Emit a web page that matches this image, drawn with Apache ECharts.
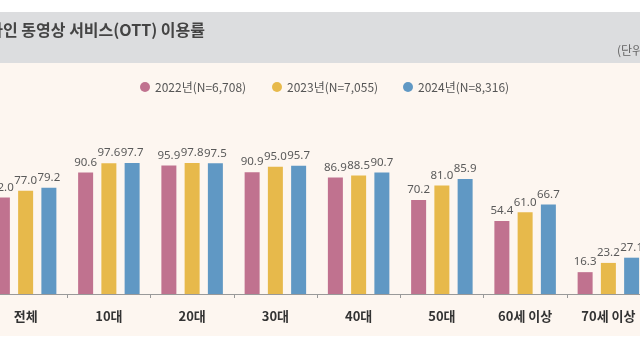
<!DOCTYPE html>
<html>
<head>
<meta charset="utf-8">
<script src="https://cdn.jsdelivr.net/npm/echarts@6/dist/echarts.min.js"></script>
<style>
  html, body { margin: 0; padding: 0; background: #ffffff; overflow: hidden; }
  #ottChart { width: 666px; height: 350px; margin-left: -16px; }
</style>
</head>
<body>
<div id="ottChart"></div>
<script>
// 온라인 동영상 서비스(OTT) 이용률, 단위 %
var categories = ['전체', '10대', '20대', '30대', '40대', '50대', '60세 이상', '70세 이상'];
var seriesNames = ['2022년(N=6,708)', '2023년(N=7,055)', '2024년(N=8,316)'];
var values2022 = [72.0, 90.6, 95.9, 90.9, 86.9, 70.2, 54.4, 16.3];
var values2023 = [77.0, 97.6, 97.8, 95.0, 88.5, 81.0, 61.0, 23.2];
var values2024 = [79.2, 97.7, 97.5, 95.7, 90.7, 85.9, 66.7, 27.1];
var colors = ['#c0728f', '#e7b94b', '#6098c4'];

var labelFont = "'Noto Sans', sans-serif";
var krFont = "'Noto Sans CJK KR', sans-serif";
// chart div is shifted 16px left, page x = chart x - 16
var shift = 16;

function makeSeries(name, data, color) {
    return {
        name: name,
        type: 'bar',
        data: data,
        barWidth: 15,
        barGap: '55%',
        itemStyle: { color: color },
        label: {
            show: true,
            position: 'top',
            distance: 4,
            color: '#5a5a5a',
            fontSize: 11.5,
            fontFamily: labelFont,
            formatter: function (p) { return p.value.toFixed(1); }
        }
    };
}

function makeLegend(name, left) {
    return {
        data: [name],
        left: left + shift,
        top: 76,
        icon: 'circle',
        itemWidth: 10,
        itemHeight: 10,
        itemGap: 5,
        textStyle: { color: '#555', fontSize: 12, fontFamily: krFont },
        selectedMode: false
    };
}

var option = {
    animation: false,
    graphic: [
        { type: 'rect', z: -10, shape: { x: 0, y: 12, width: 666, height: 51 }, style: { fill: '#dcdddf' } },
        { type: 'rect', z: -10, shape: { x: 0, y: 63, width: 666, height: 273 }, style: { fill: '#fdf6f0' } },
        {
            type: 'text', x: 205 + shift, y: 30,
            style: {
                text: '온라인 동영상 서비스(OTT) 이용률',
                textAlign: 'right', textVerticalAlign: 'middle',
                fill: '#444', fontSize: 16, fontWeight: 'bold', fontFamily: krFont
            }
        },
        {
            type: 'text', x: 617 + shift, y: 50,
            style: {
                text: '(단위: %)',
                textAlign: 'left', textVerticalAlign: 'middle',
                fill: '#666', fontSize: 12, fontFamily: krFont
            }
        }
    ],
    legend: [
        makeLegend(seriesNames[0], 135),
        makeLegend(seriesNames[1], 267),
        makeLegend(seriesNames[2], 398)
    ],
    grid: { left: 0, right: 0, top: 160, bottom: 56 },
    xAxis: {
        type: 'category',
        data: categories,
        axisLine: { lineStyle: { color: '#999', width: 1 } },
        axisTick: { show: true, length: 4, lineStyle: { color: '#999' } },
        axisLabel: { color: '#333', fontSize: 13, fontWeight: 'bold', fontFamily: krFont, margin: 16 }
    },
    yAxis: {
        type: 'value',
        min: 0,
        max: 100,
        show: false,
        splitLine: { show: false }
    },
    series: [
        makeSeries(seriesNames[0], values2022, colors[0]),
        makeSeries(seriesNames[1], values2023, colors[1]),
        makeSeries(seriesNames[2], values2024, colors[2])
    ]
};

var ottChart = echarts.init(document.getElementById('ottChart'));
ottChart.setOption(option);
</script>
</body>
</html>
